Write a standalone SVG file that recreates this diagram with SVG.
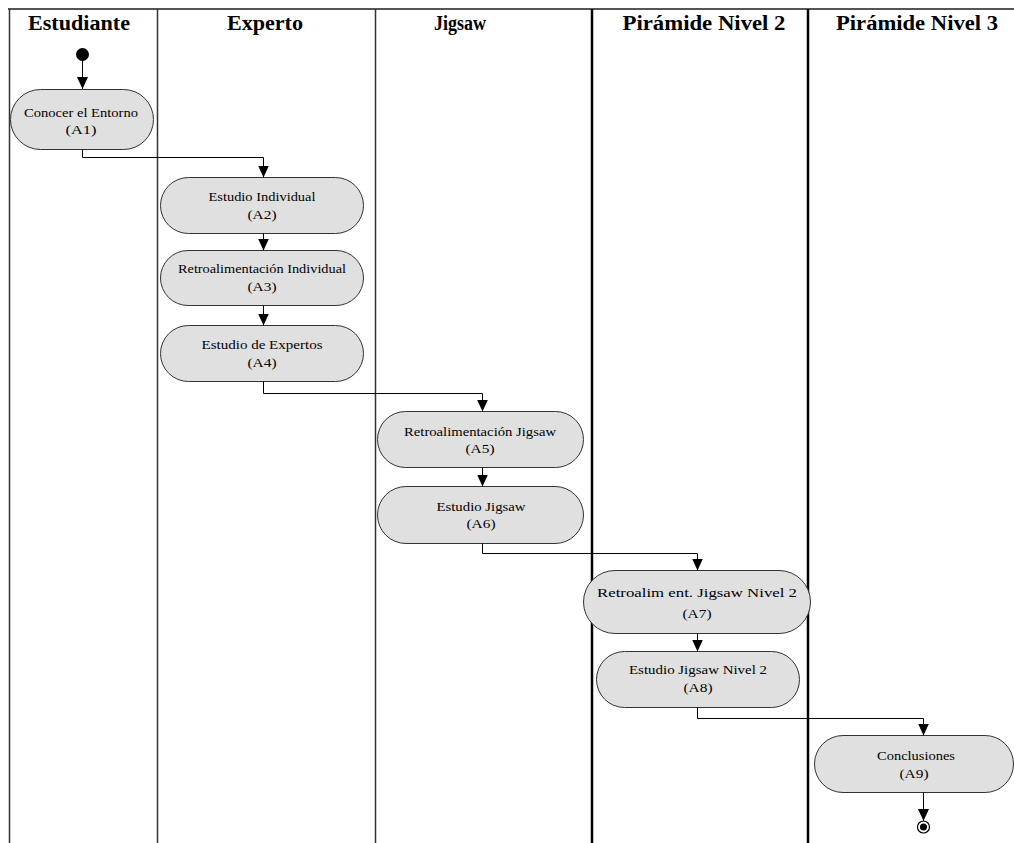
<svg xmlns="http://www.w3.org/2000/svg" width="1014" height="843" viewBox="0 0 1014 843">
<style>
.hdr{font-family:"Liberation Serif","Times New Roman",serif;font-weight:bold;font-size:20px;fill:#000;text-anchor:middle}
.lbl{font-family:"Liberation Serif","Times New Roman",serif;font-size:13px;fill:#000;text-anchor:middle}
.act{fill:#e0e0e0;stroke:#333;stroke-width:1}
.conn{fill:none;stroke:#000;stroke-width:1}
.thin{stroke:#333;stroke-width:1.5}
.thick{stroke:#000;stroke-width:2.5}
</style>
<defs>
<marker id="arr" markerUnits="userSpaceOnUse" markerWidth="12" markerHeight="12" refX="12" refY="5.5" orient="auto">
<path d="M0,0 L12,5.5 L0,11 z" fill="#000"/>
</marker>
</defs>
<rect width="1014" height="843" fill="#fff"/>
<g id="lanes">
<line x1="8" y1="9" x2="1014" y2="9" stroke="#555" stroke-width="2"/>
<line class="thin" x1="9.5" y1="9" x2="9.5" y2="843"/>
<line class="thin" x1="157.5" y1="9" x2="157.5" y2="843"/>
<line class="thin" x1="375.5" y1="9" x2="375.5" y2="843"/>
<line class="thick" x1="592" y1="9" x2="592" y2="843"/>
<line class="thick" x1="808" y1="9" x2="808" y2="843"/>
<text class="hdr" x="79" y="30" textLength="102" lengthAdjust="spacingAndGlyphs">Estudiante</text>
<text class="hdr" x="265" y="30" textLength="76" lengthAdjust="spacingAndGlyphs">Experto</text>
<text class="hdr" x="460" y="30" textLength="52" lengthAdjust="spacingAndGlyphs">Jigsaw</text>
<text class="hdr" x="704" y="30" textLength="163" lengthAdjust="spacingAndGlyphs">Pirámide Nivel 2</text>
<text class="hdr" x="917" y="30" textLength="162" lengthAdjust="spacingAndGlyphs">Pirámide Nivel 3</text>
</g>
<g id="start"><circle cx="82.5" cy="54.5" r="6.5" fill="#000"/></g>
<g id="A1">
<rect class="act" x="10.5" y="89.5" width="143" height="60" rx="30"/>
<text class="lbl" x="81" y="117" textLength="114" lengthAdjust="spacingAndGlyphs">Conocer el Entorno</text>
<text class="lbl" x="81" y="134" textLength="31" lengthAdjust="spacingAndGlyphs">(A1)</text>
</g>
<g id="A2">
<rect class="act" x="160.5" y="177.5" width="203" height="56" rx="28"/>
<text class="lbl" x="262" y="201" textLength="107" lengthAdjust="spacingAndGlyphs">Estudio Individual</text>
<text class="lbl" x="262" y="219" textLength="29" lengthAdjust="spacingAndGlyphs">(A2)</text>
</g>
<g id="A3">
<rect class="act" x="160.5" y="250.5" width="203" height="55" rx="27.5"/>
<text class="lbl" x="262" y="273" textLength="168" lengthAdjust="spacingAndGlyphs">Retroalimentación Individual</text>
<text class="lbl" x="262" y="291" textLength="29" lengthAdjust="spacingAndGlyphs">(A3)</text>
</g>
<g id="A4">
<rect class="act" x="160.5" y="325.5" width="203" height="56" rx="28"/>
<text class="lbl" x="262" y="349" textLength="121" lengthAdjust="spacingAndGlyphs">Estudio de Expertos</text>
<text class="lbl" x="262" y="367" textLength="29" lengthAdjust="spacingAndGlyphs">(A4)</text>
</g>
<g id="A5">
<rect class="act" x="377.5" y="411.5" width="206" height="56" rx="28"/>
<text class="lbl" x="480" y="436" textLength="152" lengthAdjust="spacingAndGlyphs">Retroalimentación Jigsaw</text>
<text class="lbl" x="480" y="453" textLength="29" lengthAdjust="spacingAndGlyphs">(A5)</text>
</g>
<g id="A6">
<rect class="act" x="377.5" y="486.5" width="206" height="57" rx="28.5"/>
<text class="lbl" x="481" y="511" textLength="89" lengthAdjust="spacingAndGlyphs">Estudio Jigsaw</text>
<text class="lbl" x="481" y="528" textLength="29" lengthAdjust="spacingAndGlyphs">(A6)</text>
</g>
<g id="A7">
<rect class="act" x="583.5" y="570.5" width="227" height="63" rx="31.5"/>
<text class="lbl" x="697" y="597" textLength="200" lengthAdjust="spacingAndGlyphs">Retroalim ent. Jigsaw Nivel 2</text>
<text class="lbl" x="697" y="618" textLength="29" lengthAdjust="spacingAndGlyphs">(A7)</text>
</g>
<g id="A8">
<rect class="act" x="596.5" y="651.5" width="203" height="56" rx="28"/>
<text class="lbl" x="698" y="674" textLength="138" lengthAdjust="spacingAndGlyphs">Estudio Jigsaw Nivel 2</text>
<text class="lbl" x="698" y="692" textLength="29" lengthAdjust="spacingAndGlyphs">(A8)</text>
</g>
<g id="A9">
<rect class="act" x="814.5" y="735.5" width="199" height="57" rx="28.5"/>
<text class="lbl" x="916" y="760" textLength="78" lengthAdjust="spacingAndGlyphs">Conclusiones</text>
<text class="lbl" x="914" y="778" textLength="29" lengthAdjust="spacingAndGlyphs">(A9)</text>
</g>
<g id="end">
<circle cx="923.5" cy="827" r="6" fill="#fff" stroke="#000" stroke-width="1.2"/>
<circle cx="923.5" cy="827" r="3.5" fill="#000"/>
</g>
<g id="connectors">
<path class="conn" d="M82.5,61 V89" marker-end="url(#arr)"/>
<path class="conn" d="M82.5,149.5 V157.5 H263.5 V177.5" marker-end="url(#arr)"/>
<path class="conn" d="M263.5,233.5 V250.5" marker-end="url(#arr)"/>
<path class="conn" d="M263.5,305.5 V325.5" marker-end="url(#arr)"/>
<path class="conn" d="M263.5,381.5 V393.5 H482.5 V411.5" marker-end="url(#arr)"/>
<path class="conn" d="M482.5,467.5 V486.5" marker-end="url(#arr)"/>
<path class="conn" d="M482.5,543.5 V553.5 H697.5 V570.5" marker-end="url(#arr)"/>
<path class="conn" d="M697.5,633.5 V651.5" marker-end="url(#arr)"/>
<path class="conn" d="M697.5,707.5 V718.5 H923.5 V735.5" marker-end="url(#arr)"/>
<path class="conn" d="M923.5,792.5 V821" marker-end="url(#arr)"/>
</g>
</svg>
